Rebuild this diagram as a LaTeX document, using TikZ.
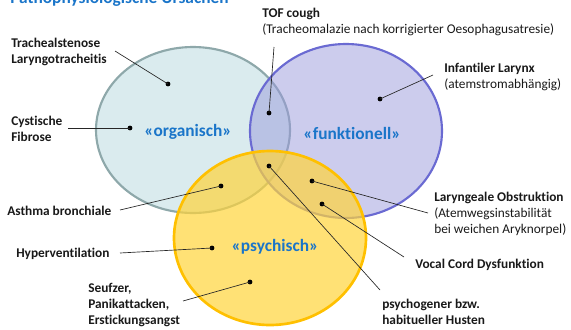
\documentclass[tikz,border=0pt]{standalone}
\usepackage{fontspec}
\setmainfont{Carlito}[Ligatures=NoCommon]
\definecolor{orgfill}{HTML}{DAEBEE}
\definecolor{orgline}{HTML}{8EA8AA}
\definecolor{funfill}{HTML}{9A9ADC}
\definecolor{funline}{HTML}{6A6AD2}
\definecolor{psyfill}{HTML}{FFD43B}
\definecolor{psyline}{HTML}{FFC000}
\definecolor{headblue}{HTML}{1A75C9}
\tikzset{
  lab/.style={anchor=west,inner sep=0pt,align=left,font=\fontsize{10}{12}\selectfont,text=black!90},
  catlab/.style={inner sep=0pt,font=\fontsize{13}{15}\selectfont\bfseries,text=headblue},
  pt/.style={circle,fill=black,inner sep=0pt,minimum size=3.6pt},
  conn/.style={draw=black!85,line width=0.5pt}
}
\begin{document}
\begin{tikzpicture}[x=0.75pt,y=-0.75pt]
\useasboundingbox (0,0) rectangle (571,329);
% circles
\draw[fill=orgfill,draw=orgline,line width=1.6pt] (193,130) ellipse [x radius=97,y radius=83];
\draw[fill=funfill,fill opacity=0.5,draw=funline,draw opacity=1,line width=1.6pt] (346,131) ellipse [x radius=96,y radius=87];
\draw[fill=psyfill,fill opacity=0.7,draw=psyline,line width=2pt] (270,238) ellipse [x radius=96,y radius=87];
% title
\node[anchor=base west,inner sep=0pt,font=\fontsize{13}{15}\selectfont\bfseries,text=headblue] (title) at (10,3) {Pathophysiologische Ursachen};
% category labels
\node[catlab] (org) at (188,132) {«organisch»};
\node[catlab] (fun) at (352,133) {«funktionell»};
\node[catlab] (psy) at (275,247) {«psychisch»};
% dots
\node[pt] (d1) at (168,84) {};
\node[pt] (d2) at (130,128) {};
\node[pt] (d3) at (269,113) {};
\node[pt] (d4) at (380,99) {};
\node[pt] (d5) at (269,166) {};
\node[pt] (d6) at (312,181) {};
\node[pt] (d7) at (322,204) {};
\node[pt] (d8) at (221,186) {};
\node[pt] (d9) at (212,248) {};
\node[pt] (d10) at (250,282) {};
% labels
\node[lab] (l1) at (11,52) {\textbf{Trachealstenose}\\\textbf{Laryngotracheitis}};
\node[lab] (l2) at (11,129) {\textbf{Cystische}\\\textbf{Fibrose}};
\node[lab] (l3) at (262,22) {\textbf{TOF cough}\\(Tracheomalazie nach korrigierter Oesophagusatresie)};
\node[lab] (l4) at (444,77) {\textbf{Infantiler Larynx}\\(atemstromabhängig)};
\node[lab] (l5) at (434,214) {\textbf{Laryngeale Obstruktion}\\(Atemwegsinstabilität\\bei weichen Aryknorpel)};
\node[lab] (l6) at (415,265) {\textbf{Vocal Cord Dysfunktion}};
\node[lab] (l7) at (382,312) {\textbf{psychogener bzw.}\\\textbf{habitueller Husten}};
\node[lab] (l8) at (7,211) {\textbf{Asthma bronchiale}};
\node[lab] (l9) at (16,254) {\textbf{Hyperventilation}};
\node[lab] (l10) at (88,305) {\textbf{Seufzer,}\\\textbf{Panikattacken,}\\\textbf{Erstickungsangst}};
% connector free ends
\coordinate (c1) at (115,51);
\coordinate (c2) at (68,128);
\coordinate (c3) at (274,47);
\coordinate (c4) at (433,75);
\coordinate (c5) at (380,290);
\coordinate (c6) at (428,213);
\coordinate (c7) at (404,257);
\coordinate (c8) at (120,210);
\coordinate (c9) at (120,253);
\coordinate (c10) at (183,301);
% connectors
\draw[conn] (c1) -- (d1.center);
\draw[conn] (c2) -- (d2.center);
\draw[conn] (c3) -- (d3.center);
\draw[conn] (c4) -- (d4.center);
\draw[conn] (c5) -- (d5.center);
\draw[conn] (c6) -- (d6.center);
\draw[conn] (c7) -- (d7.center);
\draw[conn] (c8) -- (d8.center);
\draw[conn] (c9) -- (d9.center);
\draw[conn] (c10) -- (d10.center);
\end{tikzpicture}
\end{document}
